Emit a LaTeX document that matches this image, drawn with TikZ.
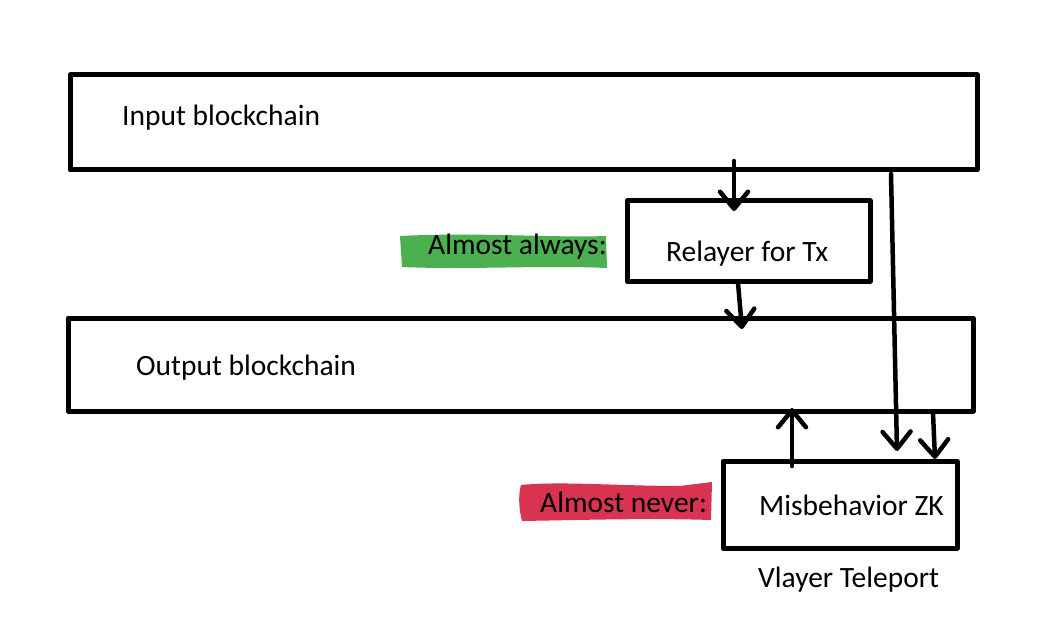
\documentclass[tikz,border=0pt]{standalone}
\usepackage{fontspec}
\setmainfont{Carlito}
\usetikzlibrary{arrows.meta}
\definecolor{hlgreen}{HTML}{4CAF50}
\definecolor{hlred}{HTML}{D93352}
\begin{document}
\begin{tikzpicture}[x=1pt,y=-1pt,
  box/.style={draw,line width=5pt,line join=round},
  conn/.style={line width=4.5pt,line cap=round,-{Straight Barb[length=17pt,width=28pt,line width=4.5pt,round]}},
  lbl/.style={font=\fontsize{29.5}{34}\selectfont,inner sep=0pt,anchor=base west}]
\useasboundingbox (0,0) rectangle (1056,644);
% boxes
\draw[box] (70,75) rectangle (977,170);
\draw[box] (627,201) rectangle (870,281);
\draw[box] (68,318) rectangle (973,411);
\draw[box] (723,461) rectangle (957,548);
% highlights
\fill[hlgreen] (400,236) .. controls (480,232) and (550,238) .. (606,236) -- (607,268) .. controls (540,265) and (470,270) .. (402,267) -- cycle;
\fill[hlred] (521,485) .. controls (560,481) and (620,486) .. (680,486) .. controls (695,484) and (705,483) .. (712,482) -- (711,520) .. controls (650,518) and (580,520) .. (522,521) .. controls (519,510) and (518,495) .. cycle;
% texts
\node[lbl] (tin) at (122,126) {Input blockchain};
\node[lbl] (trel) at (666,261) {Relayer for Tx};
\node[lbl] (tout) at (136,375) {Output blockchain};
\node[lbl] (tmis) at (759,515) {Misbehavior ZK};
\node[lbl] (tvl) at (758,587) {Vlayer Teleport};
\node[lbl] (taa) at (428,254) {Almost always:};
\node[lbl] (tan) at (540,512) {Almost never:};
% arrow endpoints
\coordinate (a1s) at (734,161); \coordinate (a1e) at (734,211);
\coordinate (a2s) at (738,283); \coordinate (a2e) at (742,329);
\coordinate (a3s) at (792,466); \coordinate (a3e) at (792,408);
\coordinate (a4s) at (891,174); \coordinate (a4e) at (897,451);
\coordinate (a5s) at (933,413); \coordinate (a5e) at (935,459);
\draw[conn] (a1s) -- (a1e);
\draw[conn] (a2s) -- (a2e);
\draw[conn] (a3s) -- (a3e);
\draw[conn] (a4s) -- (a4e);
\draw[conn] (a5s) -- (a5e);
\end{tikzpicture}
\end{document}
